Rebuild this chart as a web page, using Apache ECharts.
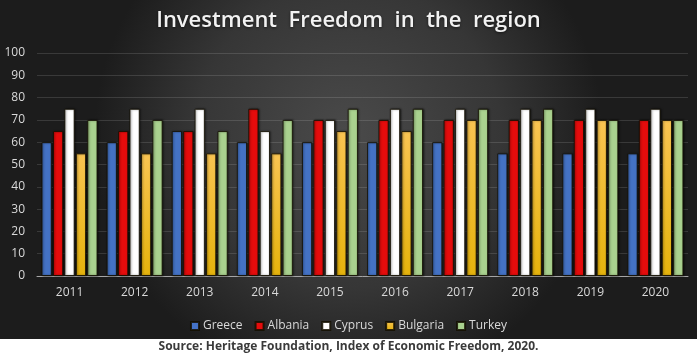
<!DOCTYPE html>
<html>
<head>
<meta charset="utf-8">
<script src="https://cdn.jsdelivr.net/npm/echarts@6/dist/echarts.min.js"></script>
<style>html,body{margin:0;padding:0;background:#fff}#c{width:697px;height:358px}</style>
</head>
<body>
<div id="c"></div>
<script>
var years = ['2011','2012','2013','2014','2015','2016','2017','2018','2019','2020'];
var greece   = [60,60,65,60,60,60,60,55,55,55];
var albania  = [65,65,65,75,70,70,70,70,70,70];
var cyprus   = [75,75,75,65,70,75,75,75,75,75];
var bulgaria = [55,55,55,55,65,65,70,70,70,70];
var turkey   = [70,70,65,70,75,75,75,75,70,70];
var yTicks = [0,10,20,30,40,50,60,70,80,90,100];

var chart = echarts.init(document.getElementById('c'), null, {renderer:'canvas'});
function mk(name, data, color){
  return {
    name: name, type: 'bar', data: data,
    barGap: '12%', barCategoryGap: '14%',
    itemStyle: {color: color, borderColor: 'rgba(20,15,0,0.85)', borderWidth: 1,
      shadowColor: 'rgba(0,0,0,0.5)', shadowBlur: 2, shadowOffsetX: 1, shadowOffsetY: 0},
    emphasis: {disabled: true}
  };
}
var bulgColor = new echarts.graphic.LinearGradient(0,0,0,1,[{offset:0,color:'#f9c452'},{offset:1,color:'#e5b30c'}]);
var option = {
  backgroundColor: '#ffffff',
  animation: false,
  graphic: [
    {type:'rect', z:-10, silent:true, shape:{x:0,y:0,width:697,height:339},
     style:{fill:new echarts.graphic.RadialGradient(0.5,0.4,0.75,[{offset:0,color:'#4a4a4a'},{offset:0.6,color:'#363636'},{offset:1,color:'#1c1c1c'}])}},
    {type:'text', left:'center', top:341, style:{text:'Source: Heritage Foundation, Index of Economic Freedom, 2020.', font:'bold 12px "Open Sans", "Liberation Sans", sans-serif', fill:'#3a3a3a'}}
  ],
  title: {
    text: 'Investment  Freedom  in  the  region', left: 'center', top: 5,
    textStyle: {color:'#f2f2f2', fontSize: 22, fontWeight: 600, fontFamily: '"Open Sans", sans-serif',
      textShadowColor:'rgba(0,0,0,0.6)', textShadowBlur:3, textShadowOffsetY:1}
  },
  legend: {
    data: ['Greece','Albania','Cyprus','Bulgaria','Turkey'],
    top: 315, left: 'center', itemWidth: 8, itemHeight: 8, itemGap: 12,
    icon: 'rect',
    textStyle: {color:'#d9d9d9', fontSize: 12, fontFamily:'"Open Sans", sans-serif', padding:[0,0,0,-1]}
  },
  grid: {left: 37, right: 9, top: 53, bottom: 82},
  xAxis: {
    type: 'category', data: years,
    axisLine: {lineStyle: {color:'#a6a6a6', width:1}},
    axisTick: {show:false},
    axisLabel: {color:'#d9d9d9', fontSize: 12, margin: 11, fontFamily:'"Open Sans", sans-serif'}
  },
  yAxis: {
    type: 'value', min: 0, max: 100, interval: 10,
    axisLine: {show:false}, axisTick: {show:false},
    splitLine: {lineStyle: {color:'rgba(255,255,255,0.13)', width:1}},
    axisLabel: {color:'#d9d9d9', fontSize: 12, margin: 12, fontFamily:'"Open Sans", sans-serif',
      formatter: function(v){ return yTicks.indexOf(v) >= 0 ? String(v) : ''; }}
  },
  series: [
    mk('Greece', greece, '#4472c4'),
    mk('Albania', albania, '#e50c0c'),
    mk('Cyprus', cyprus, '#ffffff'),
    mk('Bulgaria', bulgaria, bulgColor),
    mk('Turkey', turkey, '#a9d18e')
  ]
};
chart.setOption(option);
</script>
</body>
</html>
